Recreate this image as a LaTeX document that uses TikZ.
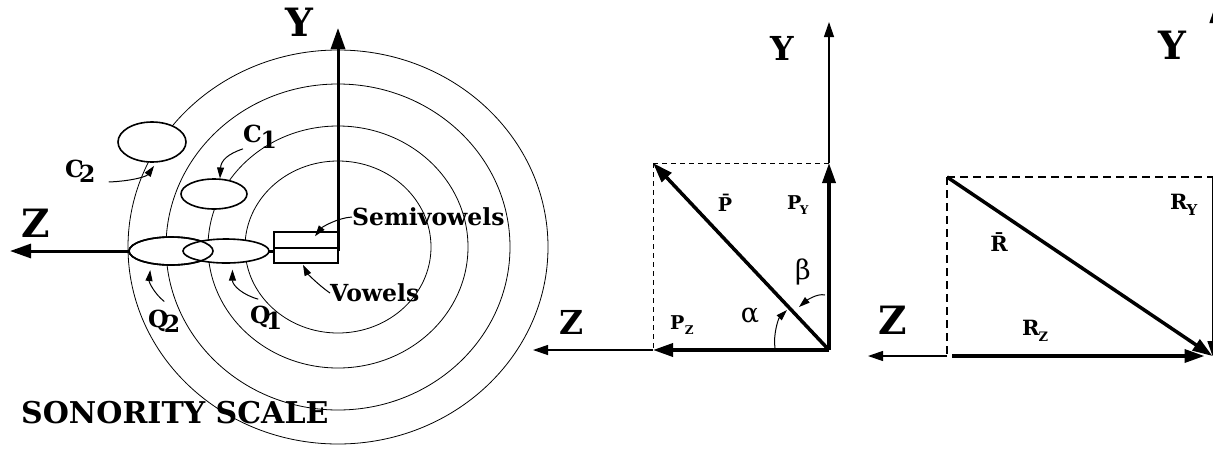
\documentclass[tikz,border=0pt]{standalone}
\usepackage{fontspec}
\setmainfont{DejaVu Serif}
\usetikzlibrary{positioning, arrows.meta, shapes.geometric}

\newcommand{\lowtag}[2]{\raisebox{-.3em}{\fontsize{#1}{#1}\selectfont #2}}

\tikzset{
  ring/.style={line width=0.8pt},
  blob/.style={ellipse, draw, fill=white, line width=1.6pt, inner sep=0pt},
  slot/.style={rectangle, draw, fill=white, line width=1.5pt, inner sep=0pt},
  axisbold/.style={line width=3pt, -{Triangle[length=21pt,width=14pt]}},
  axisthin/.style={line width=1.2pt, -{Triangle[length=15pt,width=10pt]}},
  vect/.style={line width=3.5pt, -{Triangle[length=20pt,width=13pt]}},
  callout/.style={line width=1pt, -{Triangle[length=11pt,width=7pt]}},
  guide/.style={line width=0.8pt, dash pattern=on 5pt off 4pt},
  guidewide/.style={line width=1.2pt, dash pattern=on 8pt off 5pt},
  axislbl/.style={font=\bfseries\fontsize{39}{42}\selectfont, inner sep=0pt},
  lbl/.style={font=\bfseries\fontsize{23.5}{26}\selectfont, inner sep=0pt},
  scalelbl/.style={font=\bfseries\fontsize{30}{33}\selectfont, inner sep=0pt},
  vlbl/.style={font=\bfseries\fontsize{19}{21}\selectfont, inner sep=0pt},
  greek/.style={font=\fontsize{27}{29}\selectfont, inner sep=0pt}
}

\begin{document}
\begin{tikzpicture}[x=1pt, y=-1pt]
  \useasboundingbox (0,0) rectangle (1213,448);
  \clip (0,0) rectangle (1213,448);

  % sonority scale
  \foreach \rx/\ry in {93/86, 130/121, 172/163, 210/197}
    \draw[ring] (338,247) ellipse [x radius=\rx pt, y radius=\ry pt];

  \coordinate (o1) at (338,251);
  \coordinate (y1) at (338,28);
  \coordinate (z1) at (10,251);
  \draw[axisbold] (o1) -- (z1);

  \node[blob, minimum width=68pt, minimum height=40pt] (c2blob) at (152,142) {};
  \node[blob, minimum width=66pt, minimum height=30pt] (c1blob) at (214,194) {};
  \node[blob, minimum width=84pt, minimum height=28pt] (q2blob) at (171,251) {};
  \node[blob, minimum width=86pt, minimum height=24pt] (q1blob) at (226,251) {};
  \node[blob, fill=none, minimum width=84pt, minimum height=28pt] (q2rim) at (q2blob) {};
  \node[slot, minimum width=64pt, minimum height=16pt] (semibox) at (306,240) {};
  \node[slot, minimum width=64pt, minimum height=15pt] (vowbox) at (306,255.5) {};

  \draw[axisbold] (o1) -- (y1);

  \node[axislbl] (ylbl1) at (299,22) {Y};
  \node[axislbl] (zlbl1) at (36,223) {Z};
  \node[lbl, anchor=west] (c2lbl) at (65,171) {C\kern-.2em\raisebox{-.22em}{2}};
  \node[lbl, anchor=west] (c1lbl) at (243,137) {C\kern-.05em\raisebox{-.25em}{1}};
  \node[lbl, anchor=west] (q2lbl) at (148,321) {Q\kern-.2em\raisebox{-.22em}{2}};
  \node[lbl, anchor=west] (q1lbl) at (250,318) {Q\kern-.2em\raisebox{-.25em}{1}};
  \node[lbl, anchor=west] (semilbl) at (352,217) {Semivowels};
  \node[lbl, anchor=west] (vowlbl) at (330,293) {Vowels};
  \node[scalelbl, anchor=west] (sonlbl) at (21,413) {SONORITY SCALE};

  \draw[callout, shorten >=4pt] ([xshift=13pt,yshift=-11pt]c2lbl.east)
    .. controls +(23,-1) and +(-10,14) .. (c2blob.-78);
  \draw[callout] (c1lbl.south west)
    .. controls +(-15,5) and +(1,-18) .. (c1blob.69);
  \draw[callout, shorten >=6pt] ([yshift=8pt]q2lbl.north)
    .. controls +(-10,-8) and +(-2,18) .. (q2blob.-147);
  \draw[callout, shorten >=6pt] ([xshift=-8pt,yshift=7pt]q1lbl.north)
    .. controls +(-15,-4) and +(0,22) .. (q1blob.-63);
  \draw[callout] (semilbl.west)
    .. controls +(-15,1) and +(7,-9) .. ([xshift=9pt,yshift=-5pt]semibox.north);
  \draw[callout] (vowlbl.west)
    .. controls +(-13,-9) and +(4,8) .. ([xshift=-3pt,yshift=-1pt]vowbox.south);

  % vector P
  \coordinate (o2) at (829,350);
  \coordinate (pcorner) at (653,163);
  \coordinate (pytop) at (829,163);
  \coordinate (pzend) at (653,350);
  \coordinate (y2) at (829,22);
  \coordinate (z2) at (533,350);
  \draw[guide] (pcorner) -- (pytop);
  \draw[guide] (pcorner) -- (pzend);
  \draw[axisthin] (pytop) -- (y2);
  \draw[axisthin] (pzend) -- (z2);
  \draw[vect] (o2) -- (pytop);
  \draw[vect] (o2) -- (pzend);
  \draw[vect] (o2) -- (pcorner);

  \node[axislbl, font=\bfseries\fontsize{33}{35}\selectfont] (ylbl2) at (782,48) {Y};
  \node[axislbl, font=\bfseries\fontsize{33}{35}\selectfont] (zlbl2) at (572,322) {Z};
  \node[vlbl] (pbar) at (725,203) {\={P}};
  \node[vlbl, anchor=west] (pylbl) at (787,205) {P\kern-.08em\lowtag{12}{Y}};
  \node[vlbl, anchor=west] (pzlbl) at (670,325) {P\kern.02em\lowtag{12}{Z}};
  \node[greek] (alpha) at (750,316) {α};
  \node[greek] (beta) at (803,272) {β};

  \coordinate (atail) at (775,348);
  \coordinate (ahead) at (787,310);
  \coordinate (btail) at (825,295);
  \coordinate (bhead) at (799,307);
  \draw[callout] (atail) .. controls +(-2,-12) and +(-9,9) .. (ahead);
  \draw[callout] (btail) .. controls +(-8,-2) and +(7,-6) .. (bhead);

  % vector R
  \coordinate (o3) at (1212.5,356);
  \coordinate (rcorner) at (947,177);
  \coordinate (rytop) at (1212.5,177);
  \coordinate (rzstart) at (947,356);
  \coordinate (z3) at (868,356);
  \coordinate (y3) at (1214.5,8);
  \coordinate (y3base) at (1214.5,177);
  \draw[guidewide] (rcorner) -- (rytop);
  \draw[guidewide] (rcorner) -- (rzstart);
  \draw[axisthin] (rzstart) -- (z3);
  \draw[axisthin] (y3base) -- (y3);
  \draw[axisthin, line width=1.6pt] (rytop) -- (o3);
  \draw[vect] ([xshift=5pt]rzstart) -- ([xshift=-8pt]o3);
  \draw[vect] (rcorner) -- (o3);

  \node[axislbl] (ylbl3) at (1172,45) {Y};
  \node[axislbl] (zlbl3) at (893,320) {Z};
  \node[vlbl, font=\bfseries\fontsize{21}{23}\selectfont] (rbar) at (999,242) {\={R}};
  \node[vlbl, font=\bfseries\fontsize{21}{23}\selectfont, anchor=west] (rylbl) at (1170,205) {R\kern-.05em\lowtag{15}{Y}};
  \node[vlbl, font=\bfseries\fontsize{21}{23}\selectfont, anchor=west] (rzlbl) at (1022,331) {R\kern-.05em\lowtag{13}{Z}};
\end{tikzpicture}
\end{document}
